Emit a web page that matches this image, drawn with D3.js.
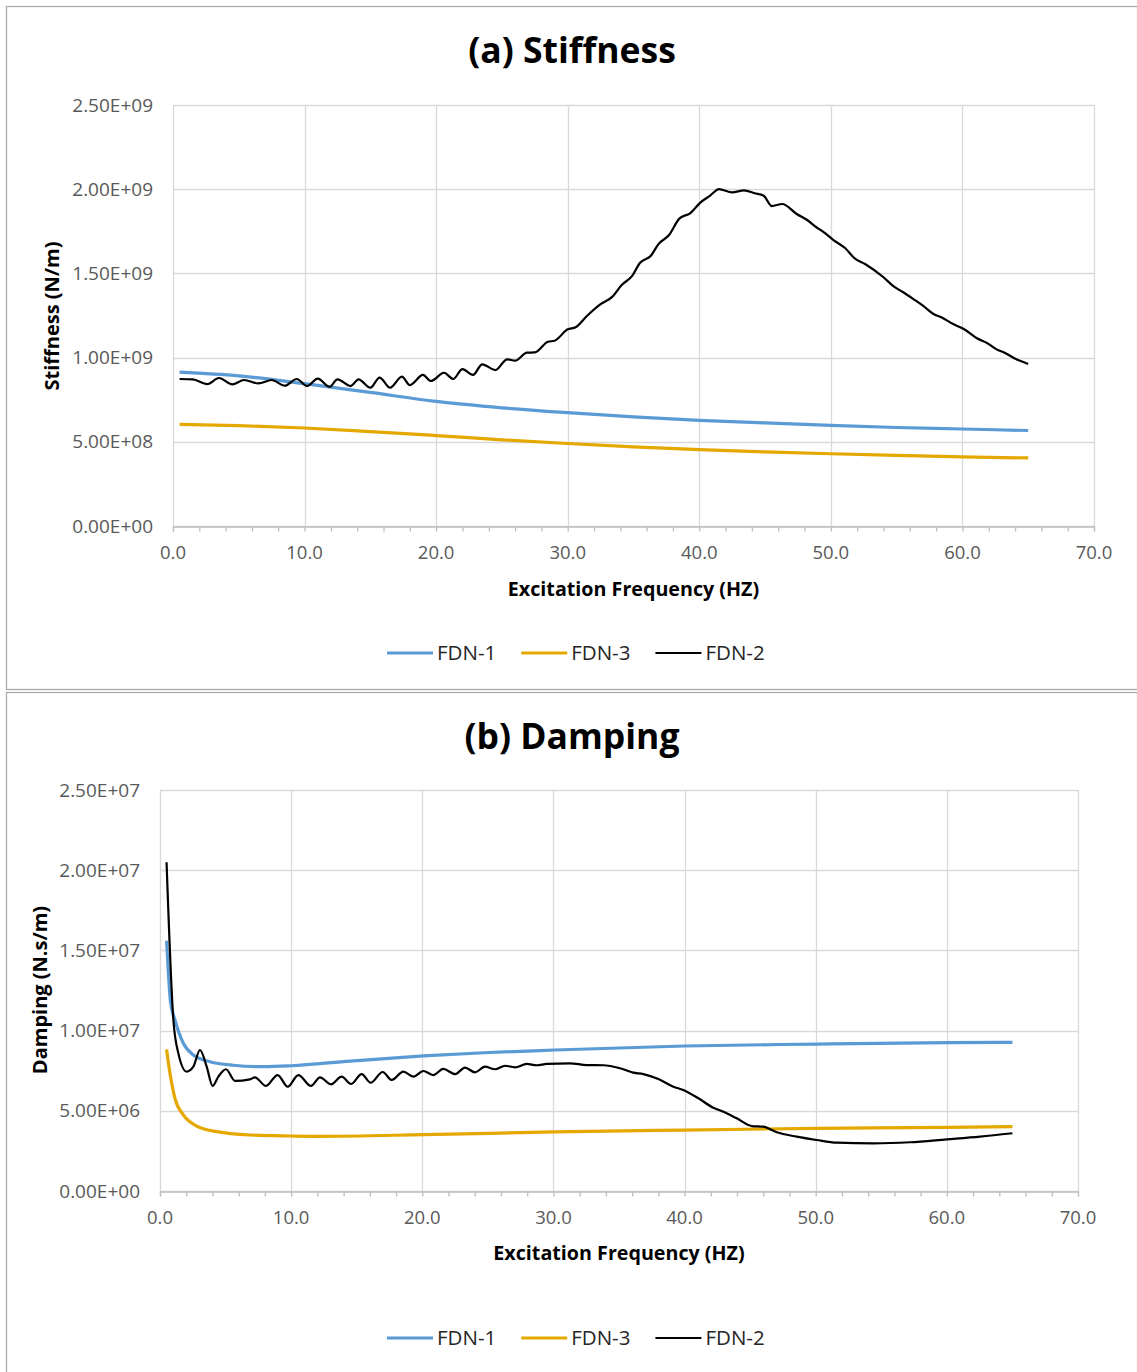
<!DOCTYPE html>
<html>
<head>
<meta charset="utf-8">
<script src="https://cdn.jsdelivr.net/npm/d3@7"></script>
<style>
  body { margin: 0; background: #fff; }
  text { font-family: "Open Sans", "Noto Sans", sans-serif; }
</style>
</head>
<body>
<div id="chart"></div>
<script>
// x ticks / y ticks
const freqTicks = [0, 10, 20, 30, 40, 50, 60, 70];
const stiffTicks = [0, 0.5e9, 1.0e9, 1.5e9, 2.0e9, 2.5e9];
const dampTicks = [0, 0.5e7, 1.0e7, 1.5e7, 2.0e7, 2.5e7];
const seriesNames = ["FDN-1", "FDN-3", "FDN-2"];
const seriesColors = ["#5b9bd5", "#e5a800", "#000000"];

// (a) Stiffness, values in 1e9 N/m
const stiffFreq1 = [0.5, 5, 10, 15, 20, 25, 30, 35, 40, 45, 50, 55, 60, 65];
const stiffFDN1 = [0.914, 0.892, 0.845, 0.793, 0.740, 0.702, 0.673, 0.648, 0.627, 0.612, 0.597, 0.585, 0.576, 0.567];
const stiffFreq3 = [0.5, 5, 10, 15, 20, 25, 30, 35, 40, 45, 50, 55, 60, 65];
const stiffFDN3 = [0.603, 0.596, 0.582, 0.561, 0.537, 0.512, 0.490, 0.470, 0.453, 0.440, 0.429, 0.419, 0.411, 0.404];
const stiffFreq2 = [0.5, 1.5, 2.6, 3.5, 4.5, 5.4, 6.5, 7.5, 8.5, 9.4, 10.2, 11.0, 11.9, 12.5, 13.5, 14.1, 15.0, 15.7,
  16.5, 17.4, 18.0, 19.0, 19.6, 20.6, 21.3, 22.0, 22.8, 23.5, 24.5, 25.4, 26.0, 26.9, 27.5, 28.5, 29.0, 30.0, 30.6,
  31.4, 32.4, 33.4, 34.1, 34.9, 35.5, 36.3, 36.9, 37.7, 38.5, 39.3, 40.1, 40.8, 41.5, 42.5, 43.4, 44.2, 44.9, 45.5,
  46.3, 47.4, 48.2, 48.9, 49.4, 50.2, 51.1, 51.8, 52.6, 54.0, 54.8, 55.5, 56.3, 57.0, 57.8, 58.4, 59.3, 60.1, 61.1,
  61.9, 62.6, 63.2, 64.1, 65.0];
const stiffFDN2 = [0.873, 0.871, 0.843, 0.879, 0.841, 0.867, 0.847, 0.867, 0.833, 0.873, 0.831, 0.875, 0.827, 0.871,
  0.831, 0.871, 0.821, 0.881, 0.821, 0.887, 0.837, 0.897, 0.861, 0.910, 0.873, 0.932, 0.897, 0.960, 0.926, 0.990,
  0.982, 1.029, 1.031, 1.094, 1.100, 1.168, 1.180, 1.243, 1.312, 1.362, 1.431, 1.485, 1.563, 1.603, 1.674, 1.728,
  1.827, 1.857, 1.922, 1.960, 2.001, 1.981, 1.993, 1.976, 1.961, 1.900, 1.912, 1.853, 1.817, 1.774, 1.748, 1.698,
  1.649, 1.590, 1.556, 1.477, 1.421, 1.388, 1.346, 1.308, 1.259, 1.239, 1.199, 1.170, 1.115, 1.085, 1.049, 1.029,
  0.990, 0.962];

// (b) Damping, values in 1e6 N.s/m
const dampFreq1 = [0.5, 0.64, 0.8, 1.14, 1.78, 2.54, 3.81, 5.59, 7.88, 10.0, 14.5, 20.1, 24.7, 30.1, 40.0, 50.1, 60.1, 65.0];
const dampFDN1 = [15.6, 13.6, 11.8, 10.66, 9.21, 8.48, 8.06, 7.84, 7.75, 7.81, 8.10, 8.42, 8.62, 8.79, 9.04, 9.16, 9.25, 9.27];
const dampFreq3 = [0.5, 0.76, 1.14, 1.78, 2.8, 4.32, 6.86, 10.0, 12.0, 20.1, 30.1, 40.0, 50.1, 60.1, 65.0];
const dampFDN3 = [8.83, 7.34, 5.78, 4.74, 4.05, 3.70, 3.49, 3.43, 3.41, 3.51, 3.68, 3.80, 3.91, 3.97, 4.01];
const dampFreq2 = [0.5, 1.02, 1.40, 2.03, 2.54, 3.05, 3.56, 4.01, 4.45, 5.03, 5.72, 6.86, 7.24, 8.08, 8.97, 9.74,
  10.55, 11.51, 12.20, 13.04, 13.85, 14.56, 15.38, 16.06, 16.98, 17.67, 18.55, 19.32, 20.08, 20.84, 21.60, 22.50,
  23.26, 24.02, 24.78, 25.55, 26.31, 27.07, 27.96, 28.72, 29.49, 31.26, 32.53, 33.8, 35.08, 36.09, 36.86, 38.0,
  39.15, 39.9, 41.05, 42.19, 42.96, 43.98, 45.12, 46.0, 47.03, 48.55, 50.07, 51.6, 54.39, 57.19, 59.99, 62.53, 65.0];
const dampFDN2 = [20.5, 10.66, 8.58, 7.44, 7.75, 8.79, 7.75, 6.55, 7.13, 7.59, 6.86, 6.96, 7.09, 6.55, 7.23, 6.50,
  7.23, 6.55, 7.09, 6.65, 7.13, 6.67, 7.29, 6.75, 7.42, 6.92, 7.44, 7.13, 7.48, 7.23, 7.61, 7.29,
  7.69, 7.40, 7.75, 7.59, 7.81, 7.71, 7.92, 7.84, 7.92, 7.96, 7.85, 7.84, 7.65, 7.38, 7.29, 6.98,
  6.50, 6.30, 5.78, 5.19, 4.94, 4.53, 4.05, 4.01, 3.66, 3.39, 3.18, 3.01, 2.97, 3.04, 3.22, 3.39, 3.60];

const W = 1137, H = 1372;
const svg = d3.select("#chart").append("svg")
  .attr("width", W)
  .attr("height", H);

// E-notation like excel: 2.50E+09
function fmtExp(v) {
  const parts = v.toExponential(2).split("e");
  let e = +parts[1];
  const sign = e < 0 ? "-" : "+";
  e = Math.abs(e);
  return parts[0].toUpperCase() + "E" + sign + (e < 10 ? "0" + e : e);
}

function zip(fs, vs, k) {
  return fs.map((f, i) => ({ f: f, v: vs[i] * k }));
}

function drawPanel(p) {
  const g = svg.append("g");

  // outer border
  g.append("rect")
    .attr("x", p.frame[0] + 0.5).attr("y", p.frame[1] + 0.5)
    .attr("width", p.frame[2]).attr("height", p.frame[3])
    .attr("fill", "#fff")
    .attr("stroke", "#a6a6a6")
    .attr("stroke-width", 1.2);

  const x = d3.scaleLinear().domain([0, 70]).range([p.left, p.right]);
  const y = d3.scaleLinear().domain([0, p.yMax]).range([p.bottom, p.top]);

  // gridlines
  g.append("g")
    .selectAll("line.h")
    .data(p.yTicks)
    .join("line")
      .attr("x1", p.left).attr("x2", p.right)
      .attr("y1", d => Math.round(y(d)) + 0.5).attr("y2", d => Math.round(y(d)) + 0.5)
      .attr("stroke", "#d9d9d9").attr("stroke-width", 1.3);
  g.append("g")
    .selectAll("line.v")
    .data(freqTicks)
    .join("line")
      .attr("x1", d => Math.round(x(d)) + 0.5).attr("x2", d => Math.round(x(d)) + 0.5)
      .attr("y1", p.top).attr("y2", p.bottom)
      .attr("stroke", "#d9d9d9").attr("stroke-width", 1.3);

  // x axis with minor ticks every 2 Hz
  const xAxis = g.append("g")
    .attr("transform", `translate(0,${Math.round(p.bottom) + 0.5})`)
    .call(d3.axisBottom(x).tickValues(d3.range(0, 71, 2)).tickSize(5).tickFormat(""));
  xAxis.select(".domain").attr("stroke", "#bfbfbf").attr("stroke-width", 1.3);
  xAxis.selectAll(".tick line").attr("stroke", "#bfbfbf").attr("stroke-width", 1.3);

  g.append("g")
    .selectAll("text")
    .data(freqTicks)
    .join("text")
      .attr("x", d => x(d))
      .attr("y", p.bottom + 27)
      .attr("dy", "0.35em")
      .attr("text-anchor", "middle")
      .attr("font-size", 18.5)
      .attr("fill", "#595959")
      .text(d => d3.format(".1f")(d));

  g.append("g")
    .selectAll("text")
    .data(p.yTicks)
    .join("text")
      .attr("x", p.left - 20)
      .attr("y", d => y(d))
      .attr("dy", "0.35em")
      .attr("text-anchor", "end")
      .attr("font-size", 19)
      .attr("fill", "#595959")
      .text(d => fmtExp(d));

  // title + axis labels
  g.append("text")
    .attr("x", 572).attr("y", p.titleY)
    .attr("dy", "0.35em")
    .attr("text-anchor", "middle")
    .attr("font-size", 35.5).attr("font-weight", 700)
    .attr("fill", "#000")
    .text(p.title);

  g.append("text")
    .attr("x", (p.left + p.right) / 2).attr("y", p.xLabelY)
    .attr("dy", "0.35em")
    .attr("text-anchor", "middle")
    .attr("font-size", 19.7).attr("font-weight", 700)
    .attr("fill", "#000")
    .text("Excitation Frequency (HZ)");

  g.append("text")
    .attr("transform", `translate(${p.yLabelX},${p.yLabelY}) rotate(-90)`)
    .attr("dy", "0.35em")
    .attr("text-anchor", "middle")
    .attr("font-size", 20).attr("font-weight", 700)
    .attr("fill", "#000")
    .text(p.yLabel);

  // lines
  const line = d3.line()
    .x(d => x(d.f))
    .y(d => y(d.v))
    .curve(d3.curveMonotoneX);

  p.series.forEach((s, i) => {
    g.append("path")
      .datum(s)
      .attr("fill", "none")
      .attr("stroke", seriesColors[i])
      .attr("stroke-width", i == 2 ? 2.2 : 3.2)
      .attr("stroke-linejoin", "round")
      .attr("d", line);
  });

  // legend
  const lg = g.append("g");
  let lx = 387;
  seriesNames.forEach((name, i) => {
    lg.append("line")
      .attr("x1", lx).attr("x2", lx + 46)
      .attr("y1", p.legendY).attr("y2", p.legendY)
      .attr("stroke", seriesColors[i])
      .attr("stroke-width", i == 2 ? 2 : 3.2);
    const t = lg.append("text")
      .attr("x", lx + 50).attr("y", p.legendY)
      .attr("dy", "0.35em")
      .attr("font-size", 20.5)
      .attr("fill", "#262626")
      .text(name);
    lx += 50 + t.node().getComputedTextLength() + 25;
  });
}

drawPanel({
  frame: [6, 6, 1131, 683],
  left: 173, right: 1094, top: 105, bottom: 526,
  yMax: 2.5e9, yTicks: stiffTicks,
  title: "(a) Stiffness", titleY: 51,
  xLabelY: 589, yLabel: "Stiffness (N/m)", yLabelX: 52, yLabelY: 316,
  legendY: 653,
  series: [zip(stiffFreq1, stiffFDN1, 1e9), zip(stiffFreq3, stiffFDN3, 1e9), zip(stiffFreq2, stiffFDN2, 1e9)]
});

drawPanel({
  frame: [6, 692, 1131, 690],
  left: 160, right: 1078, top: 790, bottom: 1191,
  yMax: 2.5e7, yTicks: dampTicks,
  title: "(b) Damping", titleY: 737,
  xLabelY: 1253, yLabel: "Damping (N.s/m)", yLabelX: 40, yLabelY: 990,
  legendY: 1338,
  series: [zip(dampFreq1, dampFDN1, 1e6), zip(dampFreq3, dampFDN3, 1e6), zip(dampFreq2, dampFDN2, 1e6)]
});
</script>
</body>
</html>
